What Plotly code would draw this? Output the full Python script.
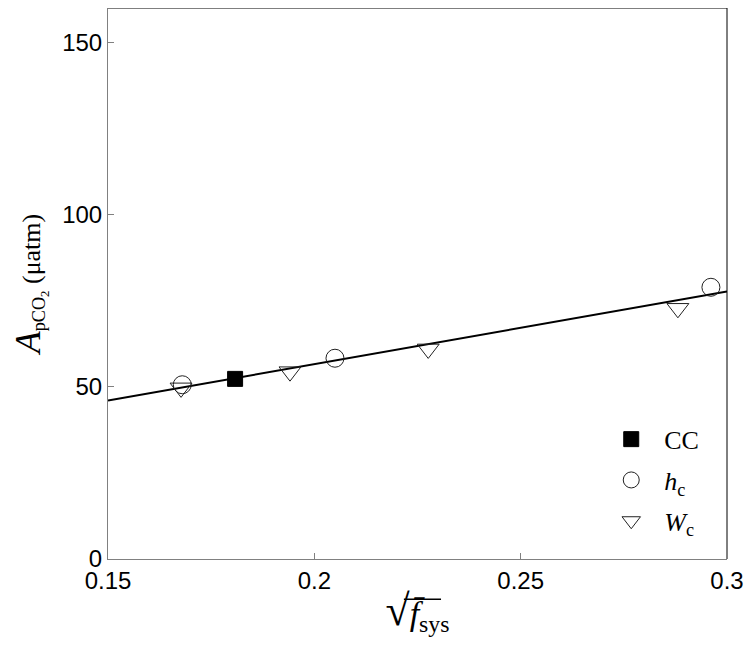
import plotly.graph_objects as go

# Data
cc_x = [0.1808]
cc_y = [52.3]

hc_x = [0.1680, 0.2050, 0.2961]
hc_y = [50.6, 58.3, 78.9]

wc_x = [0.1677, 0.1941, 0.2276, 0.2881]
wc_y = [49.7, 54.4, 61.0, 72.8]

# fitted line endpoints
fit_x = [0.15, 0.30]
fit_y = [46.0, 77.7]

x_ticks = [0.15, 0.2, 0.25, 0.3]
x_ticktext = ["0.15", "0.2", "0.25", "0.3"]
y_ticks = [0, 50, 100, 150]

serif = "Liberation Serif, Times New Roman, serif"
sans = "Liberation Sans, Arial, sans-serif"
edge = "#222222"

fig = go.Figure()

fig.add_trace(go.Scatter(
    x=fit_x, y=fit_y, mode="lines",
    line=dict(color="black", width=2),
    showlegend=False, hoverinfo="skip",
))

fig.add_trace(go.Scatter(
    x=cc_x, y=cc_y, mode="markers", name="CC", legendgroup="cc",
    marker=dict(symbol="square", size=15, color="black",
                line=dict(color="black", width=1)),
))

fig.add_trace(go.Scatter(
    x=hc_x, y=hc_y, mode="markers", name="<i>h</i><sub>c</sub>", legendgroup="hc",
    marker=dict(symbol="circle-open", size=18, color=edge,
                line=dict(color=edge, width=1)),
))

fig.add_trace(go.Scatter(
    x=wc_x, y=wc_y, mode="markers", name="<i>W</i><sub>c</sub>", legendgroup="wc",
    marker=dict(symbol="triangle-down-open", size=19, color=edge,
                line=dict(color=edge, width=1)),
))

fig.update_xaxes(
    range=[0.15, 0.3],
    tickvals=x_ticks, ticktext=x_ticktext,
    ticks="inside", ticklen=6, tickcolor="#808080",
    showline=True, linecolor="#808080", linewidth=1, mirror=False,
    showgrid=False, zeroline=False,
    tickfont=dict(family=sans, size=24, color="black"),
    title=dict(
        text="<span style='font-size:44px'>√</span><i>f̄</i><sub>sys</sub>",
        font=dict(family=serif, size=34, color="black"),
        standoff=8,
    ),
)

fig.update_yaxes(
    range=[0, 160],
    tickvals=y_ticks,
    ticks="inside", ticklen=6, tickcolor="#808080",
    showline=True, linecolor="#808080", linewidth=1, mirror=False,
    showgrid=False, zeroline=False,
    tickfont=dict(family=sans, size=24, color="black"),
    title=dict(
        text="<span style='font-size:36px'><i>A</i></span><sub>pCO<sub>2</sub></sub> (μatm)",
        font=dict(family=serif, size=26, color="black"),
        standoff=24,
    ),
)

# top and right frame lines
fig.add_shape(type="line", xref="paper", yref="paper", x0=0, x1=1, y0=1, y1=1,
              line=dict(color="black", width=1))
fig.add_shape(type="line", xref="paper", yref="paper", x0=1, x1=1, y0=0, y1=1,
              line=dict(color="black", width=1))
# vinculum of the square root in the x title
fig.add_shape(type="line", xref="paper", yref="paper",
              x0=0.478, x1=0.538, y0=-0.073, y1=-0.073,
              line=dict(color="black", width=1.5))

# page body has an 8px margin, so the figure is 8px smaller
fig.update_layout(
    width=745, height=652,
    margin=dict(l=100, r=26, t=0, b=101),
    paper_bgcolor="white", plot_bgcolor="white",
    legend=dict(
        x=0.792, y=0.26, xanchor="left", yanchor="top",
        bgcolor="rgba(0,0,0,0)",
        font=dict(family=serif, size=26, color="black"),
        itemwidth=56, tracegroupgap=4,
    ),
)

fig.write_html("out.html")
